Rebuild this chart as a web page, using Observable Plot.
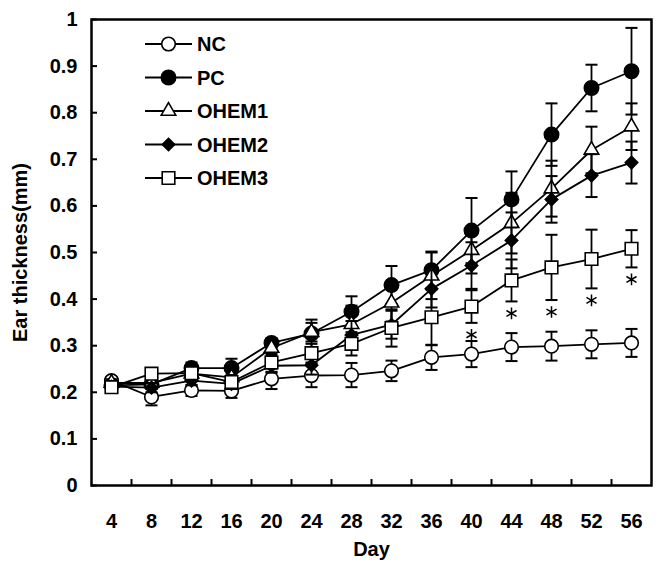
<!DOCTYPE html>
<html>
<head>
<meta charset="utf-8">
<script src="https://cdn.jsdelivr.net/npm/d3@7"></script>
<script src="https://cdn.jsdelivr.net/npm/@observablehq/plot@0.6"></script>
<style>
  html, body { margin: 0; padding: 0; background: #fff; }
  svg { font-family: "Liberation Sans", Arial, sans-serif; }
</style>
</head>
<body>
<div id="chart"></div>
<script>
const days = [4, 8, 12, 16, 20, 24, 28, 32, 36, 40, 44, 48, 52, 56];
const xBoundaries = [6, 10, 14, 18, 22, 26, 30, 34, 38, 42, 46, 50, 54];
const yTicks = [0, 0.1, 0.2, 0.3, 0.4, 0.5, 0.6, 0.7, 0.8, 0.9, 1];

const seriesNames = ["NC", "PC", "OHEM1", "OHEM2", "OHEM3"];
const NC      = [0.225, 0.190, 0.204, 0.203, 0.229, 0.236, 0.237, 0.246, 0.275, 0.282, 0.297, 0.299, 0.303, 0.306];
const NC_err  = [0.008, 0.018, 0.012, 0.015, 0.022, 0.025, 0.026, 0.022, 0.027, 0.028, 0.030, 0.031, 0.030, 0.030];
const PC      = [0.215, 0.217, 0.252, 0.252, 0.306, 0.326, 0.373, 0.430, 0.462, 0.547, 0.614, 0.753, 0.853, 0.889];
const PC_err  = [0.008, 0.010, 0.012, 0.020, 0.010, 0.030, 0.033, 0.041, 0.040, 0.070, 0.060, 0.067, 0.050, 0.093];
const OHEM1     = [0.220, 0.220, 0.240, 0.232, 0.295, 0.329, 0.346, 0.392, 0.450, 0.505, 0.563, 0.637, 0.720, 0.770];
const OHEM1_err = [0.008, 0.010, 0.010, 0.015, 0.015, 0.020, 0.040, 0.040, 0.050, 0.050, 0.065, 0.060, 0.050, 0.050];
const OHEM2     = [0.212, 0.210, 0.225, 0.218, 0.257, 0.258, 0.323, 0.345, 0.422, 0.472, 0.526, 0.614, 0.665, 0.693];
const OHEM2_err = [0.008, 0.010, 0.010, 0.010, 0.015, 0.020, 0.030, 0.030, 0.040, 0.050, 0.060, 0.050, 0.046, 0.045];
const OHEM3     = [0.211, 0.240, 0.241, 0.222, 0.264, 0.284, 0.304, 0.338, 0.361, 0.384, 0.440, 0.468, 0.486, 0.508];
const OHEM3_err = [0.008, 0.010, 0.010, 0.015, 0.020, 0.020, 0.025, 0.040, 0.060, 0.035, 0.045, 0.070, 0.063, 0.040];
const starDays = [40, 44, 48, 52, 56];

const values = [NC, PC, OHEM1, OHEM2, OHEM3];
const errors = [NC_err, PC_err, OHEM1_err, OHEM2_err, OHEM3_err];
const symbols = ["circle", "circle", "triangle", d3.symbolDiamond2, "square"];
const fills = ["white", "black", "white", "black", "white"];
const radii = [6.8, 7.2, 5.4, 5.6, 7.1];

const rows = [];
seriesNames.forEach((s, i) => days.forEach((d, j) => rows.push({series: s, idx: i, day: d, v: values[i][j], e: errors[i][j]})));
const starRows = rows.filter(r => r.series === "OHEM3" && starDays.includes(r.day));

const marks = [];
seriesNames.forEach((s, i) => {
  const data = rows.filter(r => r.series === s);
  marks.push(Plot.line(data, {x: "day", y: "v", stroke: "black", strokeWidth: 1.8}));
  marks.push(Plot.ruleX(data, {x: "day", y1: r => r.v - r.e, y2: r => r.v + r.e, stroke: "black", strokeWidth: 1.8}));
  marks.push(Plot.link(data, {x1: r => r.day - 0.6, x2: r => r.day + 0.6, y1: r => r.v + r.e, y2: r => r.v + r.e, stroke: "black", strokeWidth: 2}));
  marks.push(Plot.link(data, {x1: r => r.day - 0.6, x2: r => r.day + 0.6, y1: r => r.v - r.e, y2: r => r.v - r.e, stroke: "black", strokeWidth: 2}));
  marks.push(Plot.dot(data, {x: "day", y: "v", symbol: symbols[i], r: radii[i], fill: fills[i], stroke: "black", strokeWidth: 1.6}));
});

const chart = Plot.plot({
  width: 660,
  height: 561,
  marginLeft: 91,
  marginRight: 9,
  marginTop: 19,
  marginBottom: 76,
  style: {fontFamily: "Liberation Sans, Arial, sans-serif", fontWeight: "bold", fontSize: "20px", background: "white"},
  x: {type: "linear", domain: [2, 58]},
  y: {domain: [0, 1]},
  marks: [
    Plot.axisY(yTicks, {tickSize: 0, tickPadding: 14, fontSize: 20, fontWeight: "bold", tickFormat: d => String(+d.toFixed(1)),
      label: "Ear thickness(mm)", labelAnchor: "center", labelArrow: "none", labelOffset: 79}),
    Plot.axisX(days, {tickSize: 0, tickPadding: 28, fontSize: 20, fontWeight: "bold", tickFormat: d => String(d),
      label: "Day", labelAnchor: "center", labelArrow: "none", labelOffset: 70}),
    Plot.tickY(yTicks, {y: d => d, insetRight: 554, stroke: "black", strokeWidth: 2}),
    Plot.tickX(xBoundaries, {x: d => d, insetTop: 460, stroke: "black", strokeWidth: 2}),
    ...marks,
    Plot.dot(starRows, {x: "day", y: r => r.v - r.e, symbol: "asterisk", r: 5.5, dy: 12, stroke: "black", strokeWidth: 1.5}),
    Plot.frame({stroke: "black", strokeWidth: 2.5})
  ]
});

document.getElementById("chart").appendChild(chart);

// Legend inside the plot area (top-left)
const svg = d3.select(chart);
const lg = svg.append("g").attr("transform", "translate(145,44)");
const lgSymbols = [d3.symbolCircle, d3.symbolCircle, d3.symbolTriangle, d3.symbolDiamond2, d3.symbolSquare];
seriesNames.forEach((s, i) => {
  const g = lg.append("g").attr("transform", `translate(0,${i * 33.5})`);
  g.append("line").attr("x1", 0).attr("x2", 47).attr("y1", 0).attr("y2", 0).attr("stroke", "black").attr("stroke-width", 1.8);
  g.append("path").attr("transform", "translate(23.5,0)")
    .attr("d", d3.symbol(lgSymbols[i], Math.PI * radii[i] * radii[i])())
    .attr("fill", fills[i]).attr("stroke", "black").attr("stroke-width", 1.6);
  g.append("text").attr("x", 52).attr("y", 0).attr("dy", "0.35em").attr("text-anchor", "start")
    .attr("font-size", 20).attr("font-weight", "bold").attr("fill", "black").text(s);
});
</script>
</body>
</html>
